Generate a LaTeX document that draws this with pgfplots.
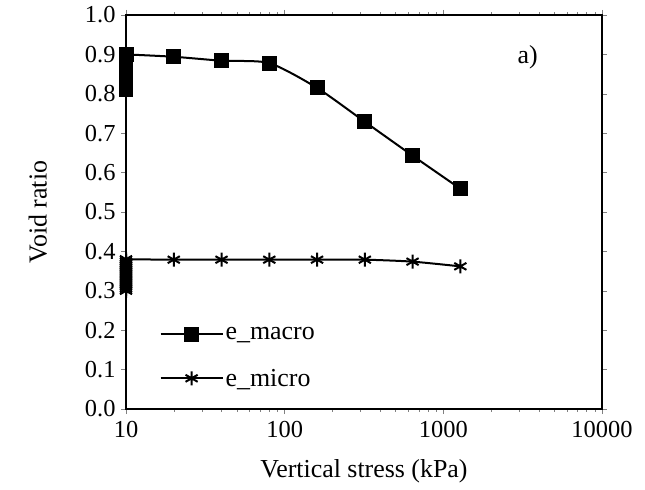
\documentclass[border=0pt]{standalone}
\usepackage{pgfplots}
\pgfplotsset{compat=1.18}
\usepackage{fontspec}
\setmainfont{Liberation Serif}
\begin{document}
\begin{tikzpicture}[font=\fontsize{26}{31}\selectfont]
\useasboundingbox (-126bp,-81bp) rectangle (519bp,409bp);
\begin{axis}[
  at={(0,0)}, anchor=south west,
  scale only axis, width=476bp, height=394bp,
  xmode=log, xmin=10, xmax=10000, ymin=0, ymax=1,
  xtick={10,100,1000,10000}, xticklabels={10,100,1000,10000},
  ytick={0,0.1,...,1.0},
  yticklabel style={/pgf/number format/fixed,/pgf/number format/fixed zerofill,/pgf/number format/precision=1, xshift=-2bp},
  /pgf/number format/assume math mode=true,
  every tick label/.append style={font=\fontsize{24.5}{29}\selectfont},
  every axis label/.append style={font=\fontsize{26}{31}\selectfont},
  minor xtick={}, 
  tick align=outside, tick style={gray, thin}, major tick length=5bp,
  axis line style={black, line width=2bp},
  xlabel={Vertical stress (kPa)}, ylabel={Void ratio},
  xlabel style={at={(axis description cs:0.5,-0.158)},anchor=center},
  ylabel style={at={(axis description cs:-0.185,0.5)},anchor=center},
  xticklabel style={yshift=-4bp},
  legend style={draw=none, fill=none, at={(0.066,0.218)}, anchor=north west, row sep=24bp, font=\fontsize{26}{31}\selectfont, inner sep=2bp},
  legend cell align=left,
  legend image code/.code={\draw[mark repeat=2,mark phase=2,#1] plot coordinates {(0bp,0bp)(31bp,0bp)(62bp,0bp)};},
  clip=false,
]
\addplot[black, line width=2bp, smooth, tension=0.4, mark=square*, mark size=6.5bp, mark options={solid}]
  coordinates {(10,0.900)(20,0.894)(40,0.884)(80,0.878)(160,0.815)(320,0.729)(640,0.643)(1280,0.559)};
\addlegendentry{e\_macro}
\addplot[black, line width=2bp, smooth, tension=0.4, mark=asterisk, mark size=7bp, mark options={solid, line width=2bp}]
  coordinates {(10,0.380)(20,0.379)(40,0.379)(80,0.379)(160,0.379)(320,0.379)(640,0.374)(1280,0.362)};
\addlegendentry{e\_micro}
\addplot[black, only marks, mark=square*, mark size=6.5bp, forget plot]
  coordinates {(10,0.81)(10,0.815)(10,0.82)(10,0.825)(10,0.83)(10,0.835)(10,0.84)(10,0.845)(10,0.85)(10,0.855)(10,0.86)(10,0.865)(10,0.87)(10,0.875)(10,0.88)(10,0.885)(10,0.89)(10,0.895)};
\addplot[black, only marks, mark=asterisk, mark size=7bp, mark options={line width=2bp}, forget plot]
  coordinates {(10,0.30)(10,0.305)(10,0.31)(10,0.315)(10,0.32)(10,0.325)(10,0.33)(10,0.335)(10,0.34)(10,0.345)(10,0.35)(10,0.355)(10,0.36)(10,0.365)(10,0.37)(10,0.375)};
\node[anchor=center] at (axis cs:3400,0.893) {a)};
\end{axis}
\end{tikzpicture}
\end{document}
